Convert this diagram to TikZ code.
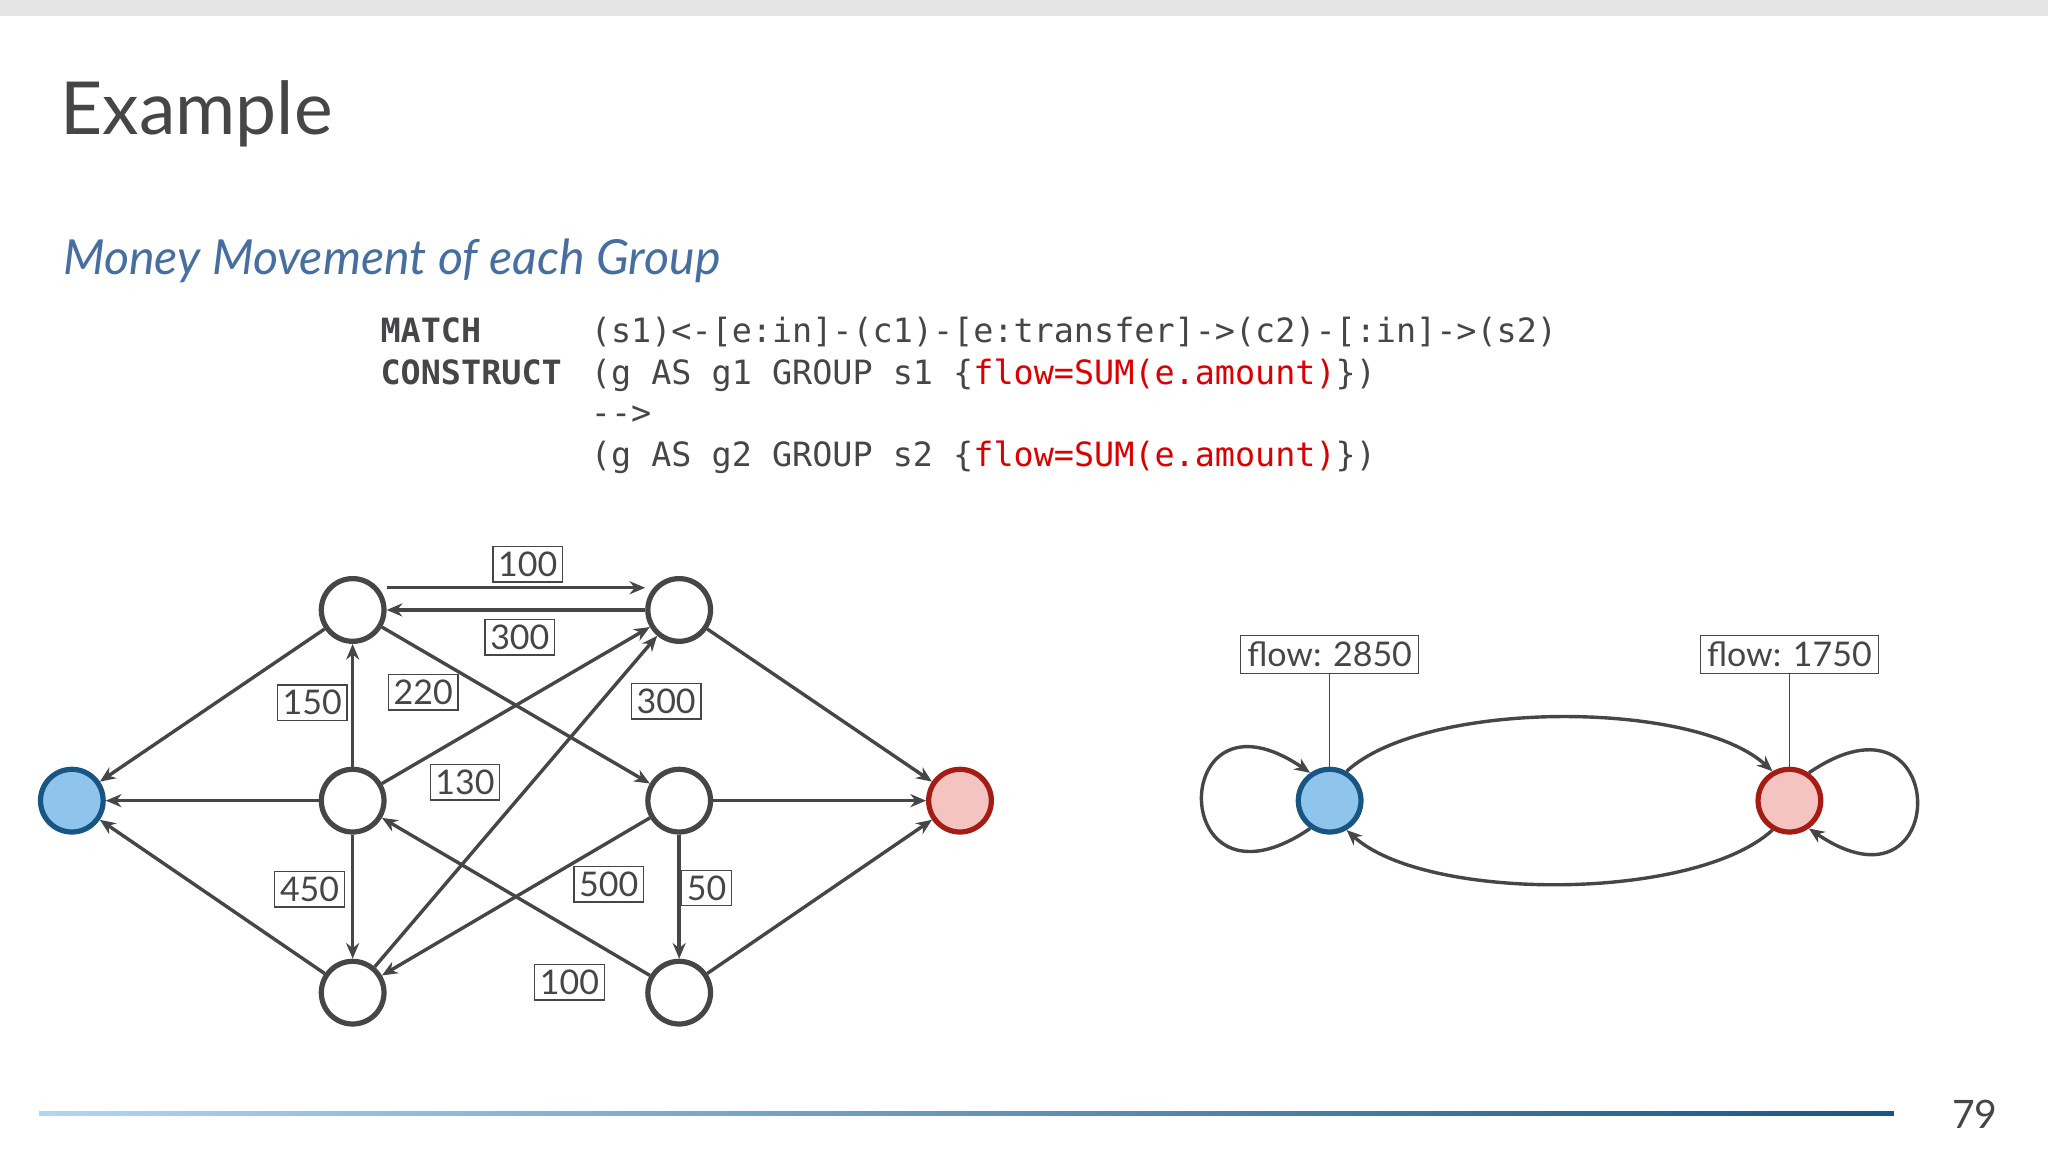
\documentclass[tikz,border=0pt]{standalone}
\usepackage{fontspec}
\setmainfont{Lato}
\newfontfamily\codefont{DejaVu Sans Mono}
\usetikzlibrary{arrows.meta}
\definecolor{ink}{RGB}{70,70,72}
\definecolor{sblue}{RGB}{143,196,236}
\definecolor{sbluedk}{RGB}{25,85,130}
\definecolor{sred}{RGB}{246,196,192}
\definecolor{sreddk}{RGB}{165,28,20}
\definecolor{subtitle}{RGB}{70,110,160}
\definecolor{codered}{RGB}{220,0,0}
\begin{document}
\begin{tikzpicture}[x=0.5pt,y=-0.5pt,
  v/.style={circle,draw=ink,line width=2pt,fill=white,minimum size=24pt,inner sep=0pt},
  e/.style={draw=ink,line width=1.3pt,-{Stealth[length=6pt,width=5pt]}},
  lbl/.style={draw=ink,line width=0.5pt,fill=white,font=\fontsize{13}{13}\selectfont,text=ink,inner sep=2pt},
  flow/.style={draw=ink,line width=0.5pt,fill=white,font=\fontsize{13}{13}\selectfont,text=ink,inner sep=2.5pt},
  code/.style={anchor=base west,inner sep=0pt,font=\codefont\fontsize{12.8}{12.8}\selectfont,text=ink}]
\useasboundingbox (0,0) rectangle (1568,882);
\fill[white] (0,0) rectangle (1568,882);
\fill[black!10] (0,0) rectangle (1568,12);

\node[anchor=base west,inner sep=0pt,font=\fontsize{28}{28}\selectfont,text=ink] (title) at (46,103) {Example};
\node[anchor=base west,inner sep=0pt,font=\itshape\fontsize{18.5}{18.5}\selectfont,text=subtitle] (sub) at (48,210) {Money Movement of each Group};

\node[code] (k1) at (291,262) {\bfseries MATCH};
\node[code] (k2) at (291,294) {\bfseries CONSTRUCT};
\node[code] (c1) at (452,262) {(s1)<-[e:in]-(c1)-[e:transfer]->(c2)-[:in]->(s2)};
\node[code] (c2) at (452,294) {(g AS g1 GROUP s1 \{\textcolor{codered}{flow=SUM(e.amount)}\})};
\node[code] (c3) at (452,325) {-{}->};
\node[code] (c4) at (452,357) {(g AS g2 GROUP s2 \{\textcolor{codered}{flow=SUM(e.amount)}\})};

% left graph
\node[v] (a) at (270,467) {};
\node[v] (b) at (520,467) {};
\node[v] (c) at (270,613) {};
\node[v] (d) at (520,613) {};
\node[v] (f) at (270,760) {};
\node[v] (g) at (520,760) {};
\node[v,fill=sblue,draw=sbluedk] (s) at (55,613) {};
\node[v,fill=sred,draw=sreddk] (t) at (735,613) {};

\draw[e] ([yshift=8.5pt]a.east) -- ([yshift=8.5pt]b.west);
\draw[e] (b.west) -- (a.east);
\draw[e] (a) -- (s);
\draw[e] (c) -- (a);
\draw[e] (a) -- (d);
\draw[e] (c) -- (b);
\draw[e] (f) -- (b);
\draw[e] (c) -- (s);
\draw[e] (c) -- (f);
\draw[e] (f) -- (s);
\draw[e] (d) -- (t);
\draw[e] (d) -- (f);
\draw[e] (d) -- (g);
\draw[e] (g) -- (c);
\draw[e] (g) -- (t);
\draw[e] (b) -- (t);

\node[lbl] (l1) at (404,432) {100};
\node[lbl] (l2) at (398,488) {300};
\node[lbl] (l3) at (239,538) {150};
\node[lbl] (l4) at (324,530) {220};
\node[lbl] (l5) at (356,599) {130};
\node[lbl] (l6) at (510,537) {300};
\node[lbl] (l7) at (237,681) {450};
\node[lbl] (l8) at (466,677) {500};
\node[lbl] (l9) at (541,680) {50};
\node[lbl] (l10) at (436,752) {100};

% right graph
\node[v,fill=sblue,draw=sbluedk] (g1) at (1018,613) {};
\node[v,fill=sred,draw=sreddk] (g2) at (1370,613) {};
\node[flow] (f1) at (1018,501) {flow: 2850};
\node[flow] (f2) at (1370,501) {flow: 1750};
\draw[sbluedk,line width=0.5pt] (f1) -- (g1);
\draw[sbluedk,line width=0.5pt] (f2) -- (g2);

\draw[e] (g1.60) .. controls +(60,-55) and +(-60,-55) .. (g2.120);
\draw[e] (g2.-120) .. controls +(-60,55) and +(60,55) .. (g1.-60);
\draw[e] (g1.235) .. controls +(-110,75) and +(-110,-75) .. (g1.125);
\draw[e] (g2.55) .. controls +(110,-75) and +(110,75) .. (g2.-55);

% footer
\shade[left color=sblue!70,right color=sbluedk] (30,851) rectangle (1450,854);
\node[anchor=base,inner sep=0pt,font=\fontsize{15}{15}\selectfont,text=ink] (pg) at (1512,864) {79};
\end{tikzpicture}
\end{document}
